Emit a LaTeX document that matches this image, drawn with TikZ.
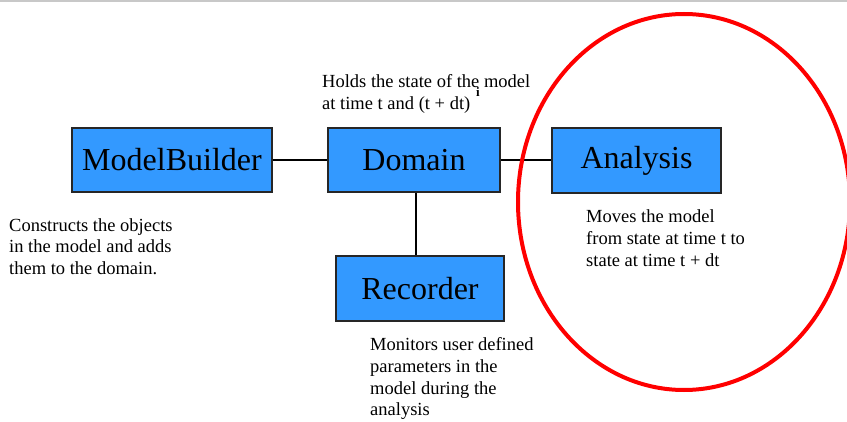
\documentclass[tikz,border=0pt]{standalone}
\usepackage{fontspec}
\setmainfont{Liberation Serif}
\definecolor{boxblue}{HTML}{3399FF}
\definecolor{topgray}{HTML}{C8C8C8}
\tikzset{
  comp/.style={draw=black!85, line width=1.6pt, fill=boxblue, inner sep=0pt,
    font=\rmfamily\fontsize{32}{32}\selectfont},
  note/.style={anchor=base west, align=left, inner sep=0pt,
    font=\rmfamily\fontsize{18.5}{21.7}\selectfont},
  link/.style={line width=1.6pt, black},
}
\begin{document}
\begin{tikzpicture}[x=1pt,y=1pt]
\useasboundingbox (0,0) rectangle (847,421);
\draw[topgray, line width=1.5pt] (0,420) -- (847,420);
\node[comp, minimum width=200pt, minimum height=64pt] (mb) at (172,261) {ModelBuilder};
\node[comp, minimum width=172pt, minimum height=64pt] (dom) at (414,261) {Domain};
\node[comp, minimum width=169pt, minimum height=65pt] (ana) at (636.5,260.5) {Analysis};
\node[comp, minimum width=168pt, minimum height=65pt] (rec) at (420,132.5) {Recorder};
\draw[link] (mb.east) -- (dom.west);
\draw[link] (dom.east) -- (dom.east -| ana.west);
\coordinate (dbot) at ([xshift=2pt]dom.south);
\draw[link] (dbot) -- (dbot |- rec.north);
\node[note] (holds) at (322,311.8) {Holds the state of the model\\at time t and (t + dt)};
\node[anchor=base west, inner sep=0pt, font=\rmfamily\fontsize{13}{13}\selectfont\bfseries] (sup) at (476,324) {i};
\node[note] (cons) at (9,146.3) {Constructs the objects\\in the model and adds\\them to the domain.};
\node[note] (moves) at (586,154.9) {Moves the model\\from state at time t to\\state at time t + dt};
\node[note] (mon) at (370,5.2) {Monitors user defined\\parameters in the\\model during the\\analysis};
\draw[red, line width=4pt] (684,219) ellipse [x radius=166pt, y radius=188pt];
\end{tikzpicture}
\end{document}
